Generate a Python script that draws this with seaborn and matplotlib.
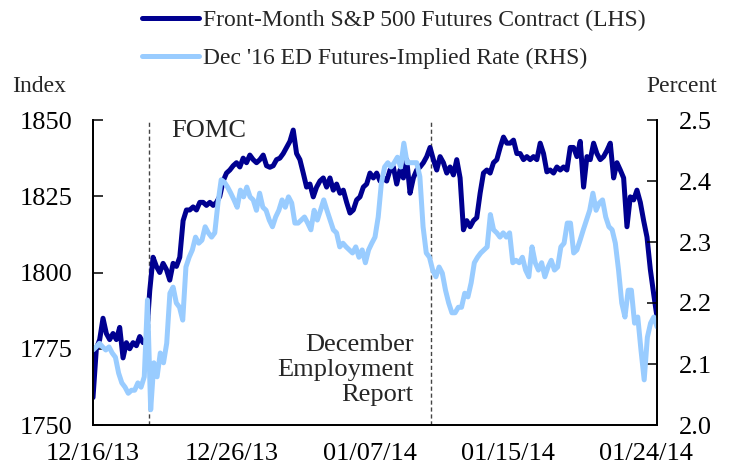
import numpy as np
import pandas as pd
import matplotlib.pyplot as plt
import seaborn as sns

# Front-month S&P 500 futures (index, LHS), intraday, 12/16/13 - 01/24/14
sp500 = [
    1759, 1775, 1778, 1785, 1780, 1778, 1780, 1778, 1782, 1772, 1777, 1775, 1777, 1776, 1779, 1777, 1778,
    1794, 1805, 1802, 1800, 1803, 1801, 1797.5, 1803, 1802, 1805, 1817, 1820.5, 1820.5, 1821.5, 1820.5, 1823, 1823,
    1822, 1823, 1822, 1823, 1825, 1830, 1832.6, 1833.6, 1835, 1836, 1834.6, 1837.5, 1836, 1838.5, 1837, 1836, 1837,
    1838.5, 1835, 1834.5, 1835, 1837, 1837.5, 1839, 1841, 1843, 1846.7, 1839, 1837, 1832.6, 1828, 1829, 1824.8, 1828,
    1830, 1831, 1828, 1831, 1827, 1829, 1826, 1827, 1823, 1819.5, 1820.5, 1823.8, 1824.8, 1828, 1829, 1832.6, 1831,
    1832.6, 1830, 1831, 1830, 1833.6, 1834.6, 1829, 1833.6, 1831, 1837, 1826, 1831, 1833.6, 1834.6, 1836, 1838, 1841, 1837,
    1833.6, 1838, 1836, 1832.6, 1834.6, 1832, 1837, 1831, 1814, 1817, 1815, 1817, 1818, 1826, 1832.6, 1833.6, 1832.6,
    1836, 1837, 1841, 1844.4, 1842.4, 1842.4, 1843.4, 1839, 1839, 1837, 1838, 1837, 1838, 1837, 1842.4, 1839, 1833,
    1833.6, 1832.6, 1834.6, 1833.6, 1834.6, 1833.6, 1841, 1841, 1838, 1843, 1828, 1838, 1837, 1842.4, 1839, 1837, 1838,
    1840, 1842.4, 1831, 1836, 1833.6, 1831, 1815, 1824.8, 1823.8, 1827, 1823, 1817, 1811.6, 1801, 1793, 1785.4,
]

# Dec '16 eurodollar futures-implied rate (percent, RHS)
ed_rate = [
    2.123, 2.128, 2.134, 2.128, 2.123, 2.128, 2.118, 2.111, 2.085, 2.069, 2.062, 2.052, 2.057, 2.057, 2.069, 2.062,
    2.079, 2.205, 2.025, 2.102, 2.079, 2.118, 2.102, 2.134, 2.216, 2.226, 2.200, 2.193, 2.172, 2.259, 2.275, 2.287,
    2.308, 2.298, 2.303, 2.325,
    2.315, 2.308, 2.315, 2.364, 2.402, 2.398, 2.390, 2.380, 2.369, 2.357, 2.385, 2.374, 2.390, 2.374, 2.369, 2.352,
    2.380, 2.357, 2.352, 2.336, 2.325, 2.341, 2.352, 2.369, 2.357, 2.374, 2.364, 2.331, 2.331, 2.336, 2.341, 2.331, 2.320,
    2.352, 2.336, 2.352, 2.369, 2.352, 2.336, 2.320, 2.315, 2.292, 2.298, 2.292, 2.287, 2.282, 2.292, 2.275, 2.287,
    2.266, 2.287, 2.298, 2.308, 2.341, 2.397, 2.423, 2.430, 2.423, 2.430, 2.439, 2.423, 2.462, 2.430, 2.430, 2.430,
    2.430, 2.407, 2.325, 2.282,
    2.275, 2.254, 2.243, 2.259, 2.249, 2.221, 2.200, 2.184, 2.184, 2.193, 2.193, 2.216, 2.210, 2.233, 2.266, 2.275,
    2.282, 2.287, 2.292, 2.345, 2.320, 2.315, 2.308, 2.315, 2.308, 2.315, 2.266, 2.270, 2.266, 2.275, 2.254, 2.243,
    2.292, 2.266, 2.254,
    2.266, 2.243, 2.259, 2.270, 2.254, 2.259, 2.292, 2.298, 2.331, 2.331, 2.282, 2.287, 2.303, 2.320, 2.336, 2.352,
    2.380, 2.352, 2.364, 2.369, 2.341, 2.325, 2.320, 2.298, 2.254, 2.200, 2.177, 2.221, 2.221, 2.167, 2.177, 2.123,
    2.074, 2.144, 2.167, 2.177, 2.161,
]

# x axis in trading-day units
tick_days = [0, 7, 14, 21, 28]
tick_labels = ["12/16/13", "12/26/13", "01/07/14", "01/15/14", "01/24/14"]
last_day = 28.56
fomc_day = 2.84
payroll_day = 17.14

sp_ticks = [1750, 1775, 1800, 1825, 1850]
rate_ticks = [2.0, 2.1, 2.2, 2.3, 2.4, 2.5]

dark = "#000090"
light = "#99ccff"

sns.set_style("white")
plt.rcParams["font.family"] = ["Liberation Serif", "DejaVu Serif"]
plt.rcParams["font.size"] = 19

sp_df = pd.DataFrame({"day": np.linspace(0, last_day, len(sp500)), "value": sp500})
ed_df = pd.DataFrame({"day": np.linspace(0, last_day, len(ed_rate)), "value": ed_rate})

fig = plt.figure(figsize=(7.34, 4.73), dpi=100)
ax = fig.add_axes([93 / 734, 48 / 473, 564 / 734, 305 / 473])
ax2 = ax.twinx()

sns.lineplot(data=sp_df, x="day", y="value", ax=ax, color=dark, linewidth=3.6,
             errorbar=None, label="Front-Month S&P 500 Futures Contract (LHS)", legend=False)
sns.lineplot(data=ed_df, x="day", y="value", ax=ax2, color=light, linewidth=3.6,
             errorbar=None, label="Dec '16 ED Futures-Implied Rate (RHS)", legend=False)
h1 = ax.lines[0]
h2 = ax2.lines[0]

for d in (fomc_day, payroll_day):
    ax.axvline(d, color="#444444", linestyle=(0, (3, 2)), linewidth=1.0, zorder=1)

ax.set_xlim(0, last_day)
ax.set_ylim(1750, 1850)
ax2.set_ylim(2.0, 2.5)
ax.set_xticks(tick_days)
ax.set_xticklabels(tick_labels)
ax.set_yticks(sp_ticks)
ax2.set_yticks(rate_ticks)
ax2.set_yticklabels([f"{v:.1f}" for v in rate_ticks])
ax.set_xlabel("")
ax.set_ylabel("")
ax2.set_ylabel("")

ax.tick_params(axis="x", direction="out", length=7, width=1.1, pad=6, colors="black")
ax.tick_params(axis="y", direction="in", length=7, width=1.1, pad=15, colors="black")
ax2.tick_params(axis="y", direction="in", length=7, width=1.1, pad=16, colors="black")

for a in (ax, ax2):
    a.spines["top"].set_visible(False)
    for s in ("left", "right", "bottom"):
        a.spines[s].set_color("black")
        a.spines[s].set_linewidth(1.3)

ax.text(3.95, 1846.5, "FOMC", ha="left", va="center")
ax.text(16.23, 1768, "December\nEmployment\nReport", ha="right", va="center",
        multialignment="right", linespacing=1.2)

fig.text(12 / 734, 1 - 86 / 473, "Index", ha="left", va="center", fontsize=17)
fig.text(717 / 734, 1 - 86 / 473, "Percent", ha="right", va="center", fontsize=17)

fig.legend([h1, h2], [h1.get_label(), h2.get_label()], loc="upper left",
           bbox_to_anchor=(140 / 734, 1 - 7 / 473), frameon=False, borderpad=0.1,
           borderaxespad=0, fontsize=17, handlelength=2.4, handletextpad=0.15,
           labelspacing=0.72)

fig.savefig("out.png", dpi=100)
